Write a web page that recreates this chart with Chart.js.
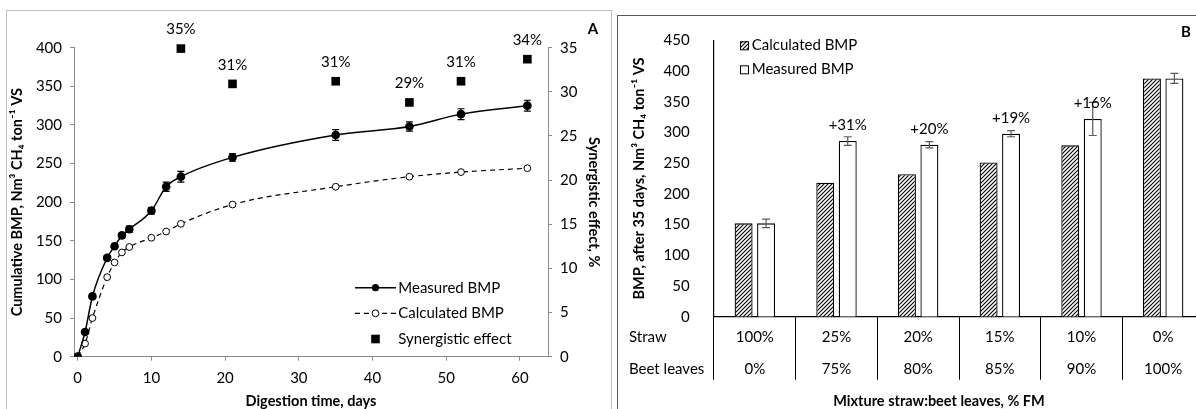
<!DOCTYPE html>
<html><head><meta charset="utf-8">
<script src="https://cdn.jsdelivr.net/npm/chart.js@4.4.1/dist/chart.umd.min.js"></script>
<style>
html,body{margin:0;padding:0;background:#fff;width:1196px;height:409px;overflow:hidden;position:relative;}
.frame{position:absolute;box-sizing:border-box;}
#frameA{left:6px;top:10px;width:606px;height:420px;border:1px solid #bfbfbf;}
#frameB{left:617px;top:15px;width:700px;height:420px;border:1px solid #595959;}
canvas{position:absolute;}
#cA{left:7px;top:11px;}
#cB{left:617px;top:15px;}
</style></head><body>
<div class="frame" id="frameA"></div><div class="frame" id="frameB"></div>
<canvas id="cA" width="604" height="398"></canvas>
<canvas id="cB" width="600" height="400"></canvas>
<script>
// ---------- Panel A data ----------
const daysA = [0, 1, 2, 4, 5, 6, 7, 10, 12, 14, 21, 35, 45, 52, 61];
const measuredA = [0, 32, 78, 128, 143, 157, 165, 189, 220, 233, 258, 287, 298, 314, 325];
const measuredErrA = [0, 2, 3, 3, 3, 3, 4, 4, 6, 7, 5, 7, 6, 7, 7];
const calculatedA = [0, 17, 50, 103, 122, 135, 142, 154, 162, 172, 197, 220, 233, 239, 244];
const synDaysA = [14, 21, 35, 45, 52, 61];
const synValuesA = [34.9, 30.9, 31.2, 28.8, 31.2, 33.7];
const synLabelsA = ['35%', '31%', '31%', '29%', '31%', '34%'];
const xTicksA = [0, 10, 20, 30, 40, 50, 60];
const legendA = ['Measured BMP', 'Calculated BMP', 'Synergistic effect'];

// ---------- Panel B data ----------
const strawPctB = ['100%', '25%', '20%', '15%', '10%', '0%'];
const beetPctB = ['0%', '75%', '80%', '85%', '90%', '100%'];
const calculatedB = [152, 218, 232, 251, 279, 388];
const measuredB = [152, 286, 280, 298, 322, 388];
const measuredErrB = [7, 7, 5, 5, 27, 8];
const synLabelsB = ['', '+31%', '+20%', '+19%', '+16%', ''];
const legendB = ['Calculated BMP', 'Measured BMP'];

const FONT = 'Lato, "Open Sans", sans-serif';
const FS = 15;      // normal text size
const FT = 14.5;    // bold title size
Chart.defaults.font.family = FONT;
Chart.defaults.color = '#000';
const GREY = '#8c8c8c';

// ---------- Panel A ----------
const pluginA = {
  id: 'extrasA',
  afterDatasetsDraw(chart) {
    const ctx = chart.ctx;
    const ys = chart.scales.y;
    const m0 = chart.getDatasetMeta(0);
    ctx.save();
    ctx.strokeStyle = '#000'; ctx.lineWidth = 1.2;
    m0.data.forEach((el, i) => {
      const e = measuredErrA[i];
      if (!e) return;
      const y1 = ys.getPixelForValue(measuredA[i] + e);
      const y2 = ys.getPixelForValue(measuredA[i] - e);
      ctx.beginPath();
      ctx.moveTo(el.x, y1); ctx.lineTo(el.x, y2);
      ctx.moveTo(el.x - 3.5, y1); ctx.lineTo(el.x + 3.5, y1);
      ctx.moveTo(el.x - 3.5, y2); ctx.lineTo(el.x + 3.5, y2);
      ctx.stroke();
    });
    const m2 = chart.getDatasetMeta(2);
    ctx.fillStyle = '#000';
    ctx.font = FS + 'px ' + FONT;
    ctx.textAlign = 'center'; ctx.textBaseline = 'middle';
    m2.data.forEach((el, i) => ctx.fillText(synLabelsA[i], el.x, el.y - 19));
    // legend
    const ca = chart.chartArea;
    const lx0 = ca.right - 193, lx1 = ca.right - 152, tx = ca.right - 149.7;
    const rows = [ca.bottom - 69, ca.bottom - 43.4, ca.bottom - 17.7];
    ctx.textAlign = 'left';
    ctx.lineWidth = 1.5; ctx.strokeStyle = '#000';
    ctx.setLineDash([]);
    ctx.beginPath(); ctx.moveTo(lx0, rows[0]); ctx.lineTo(lx1, rows[0]); ctx.stroke();
    ctx.beginPath(); ctx.arc((lx0 + lx1) / 2, rows[0], 3.6, 0, Math.PI * 2); ctx.fill();
    ctx.lineWidth = 1.2; ctx.setLineDash([5, 4]);
    ctx.beginPath(); ctx.moveTo(lx0, rows[1]); ctx.lineTo(lx1, rows[1]); ctx.stroke();
    ctx.setLineDash([]);
    ctx.fillStyle = '#fff';
    ctx.beginPath(); ctx.arc((lx0 + lx1) / 2, rows[1], 3.4, 0, Math.PI * 2); ctx.fill(); ctx.lineWidth = 1; ctx.stroke();
    ctx.fillStyle = '#000';
    ctx.fillRect((lx0 + lx1) / 2 - 4.3, rows[2] - 4.3, 8.6, 8.6);
    legendA.forEach((t, i) => ctx.fillText(t, tx, rows[i]));
    ctx.font = 'bold 15px ' + FONT;
    ctx.textAlign = 'center';
    ctx.fillText('A', 586, 18);
    ctx.restore();
  }
};

const axisGridA = { drawOnChartArea: false, drawTicks: true, tickLength: 4, color: GREY };
new Chart(document.getElementById('cA'), {
  type: 'line',
  data: {
    datasets: [
      {
        label: legendA[0],
        data: daysA.map((d, i) => ({ x: d, y: measuredA[i] })),
        yAxisID: 'y', order: 0,
        borderColor: '#000', backgroundColor: '#000', borderWidth: 1.5,
        pointRadius: 3.6, pointBackgroundColor: '#000', pointBorderColor: '#000',
        tension: 0.3, cubicInterpolationMode: 'monotone'
      },
      {
        label: legendA[1],
        data: daysA.map((d, i) => ({ x: d, y: calculatedA[i] })),
        yAxisID: 'y', order: 1,
        borderColor: '#000', borderWidth: 1.2, borderDash: [5, 4],
        pointRadius: 3.4, pointBackgroundColor: '#fff', pointBorderColor: '#000', pointBorderWidth: 1,
        tension: 0.3, cubicInterpolationMode: 'monotone'
      },
      {
        label: legendA[2],
        data: synDaysA.map((d, i) => ({ x: d, y: synValuesA[i] })),
        yAxisID: 'y2', order: 2, showLine: false, clip: false,
        pointStyle: 'rect', pointRadius: 6.1, pointBackgroundColor: '#000', pointBorderColor: '#000', pointBorderWidth: 0
      }
    ]
  },
  options: {
    responsive: false, animation: false,
    layout: { padding: { top: 36.7, left: 0, right: 0, bottom: 0 } },
    plugins: { legend: { display: false }, tooltip: { enabled: false } },
    scales: {
      x: {
        type: 'linear', min: -0.5, max: 63.8,
        afterBuildTicks: s => { s.ticks = xTicksA.map(v => ({ value: v })); },
        grid: axisGridA, border: { color: GREY, width: 1 },
        ticks: { padding: 8, font: { size: FS }, color: '#000', maxRotation: 0 },
        title: { display: true, text: 'Digestion time, days', font: { size: FT, weight: 'bold' }, color: '#000', padding: { top: 0, bottom: -1 } },
        afterFit: s => { s.height = 52.3; }
      },
      y: {
        position: 'left', min: 0, max: 400,
        grid: axisGridA, border: { color: GREY, width: 1 },
        ticks: { stepSize: 50, padding: 8, font: { size: FS }, color: '#000' },
        title: { display: true, text: 'Cumulative BMP, Nm³ CH₄ ton⁻¹ VS', font: { size: FT, weight: 'bold' }, color: '#000', padding: { top: 2, bottom: 0 } },
        afterFit: s => { s.width = 67; }
      },
      y2: {
        position: 'right', min: 0, max: 35,
        grid: axisGridA, border: { color: GREY, width: 1 },
        ticks: { stepSize: 5, padding: 8, font: { size: FS }, color: '#000' },
        title: { display: true, text: 'Synergistic effect, %', font: { size: FT, weight: 'bold' }, color: '#000', padding: { top: 9, bottom: 0 } },
        afterFit: s => { s.width = 63; }
      }
    }
  },
  plugins: [pluginA]
});

// ---------- Panel B ----------
function makeHatch() {
  const c = document.createElement('canvas');
  c.width = 4; c.height = 4;
  const g = c.getContext('2d');
  g.fillStyle = '#fff'; g.fillRect(0, 0, 4, 4);
  g.strokeStyle = '#000'; g.lineWidth = 1.1;
  g.beginPath();
  g.moveTo(0, 4); g.lineTo(4, 0);
  g.moveTo(-1, 1); g.lineTo(1, -1);
  g.moveTo(3, 5); g.lineTo(5, 3);
  g.stroke();
  return g.createPattern(c, 'repeat');
}
const hatch = makeHatch();

const pluginB = {
  id: 'extrasB',
  afterDatasetsDraw(chart) {
    const ctx = chart.ctx;
    const ys = chart.scales.y;
    const m1 = chart.getDatasetMeta(1);
    ctx.save();
    ctx.strokeStyle = '#595959'; ctx.lineWidth = 1.2;
    m1.data.forEach((el, i) => {
      const e = measuredErrB[i];
      const y1 = ys.getPixelForValue(measuredB[i] + e);
      const y2 = ys.getPixelForValue(measuredB[i] - e);
      ctx.beginPath();
      ctx.moveTo(el.x, y1); ctx.lineTo(el.x, y2);
      ctx.moveTo(el.x - 4, y1); ctx.lineTo(el.x + 4, y1);
      ctx.moveTo(el.x - 4, y2); ctx.lineTo(el.x + 4, y2);
      ctx.stroke();
    });
    ctx.fillStyle = '#000';
    ctx.font = FS + 'px ' + FONT;
    ctx.textAlign = 'center'; ctx.textBaseline = 'middle';
    m1.data.forEach((el, i) => { if (synLabelsB[i]) ctx.fillText(synLabelsB[i], el.x, el.y - 16); });
    ctx.textAlign = 'left';
    const bottom = chart.chartArea.bottom;
    ctx.fillText('Straw', 12, bottom + 20);
    ctx.fillText('Beet leaves', 12, bottom + 52.6);
    // legend
    const bx = chart.chartArea.left + 26;
    const rows = [chart.chartArea.top + 5, chart.chartArea.top + 29];
    ctx.lineWidth = 1; ctx.strokeStyle = '#000';
    [hatch, '#fff'].forEach((f, i) => {
      ctx.fillStyle = f;
      ctx.fillRect(bx, rows[i] - 4, 8, 8);
      ctx.strokeRect(bx + 0.5, rows[i] - 3.5, 8, 8);
    });
    ctx.fillStyle = '#000';
    legendB.forEach((t, i) => ctx.fillText(t, bx + 11.7, rows[i]));
    ctx.font = 'bold ' + FT + 'px ' + FONT;
    ctx.textAlign = 'center';
    ctx.fillText('Mixture straw:beet leaves, % FM', chart.chartArea.left + 225, bottom + 85);
    ctx.font = 'bold 15px ' + FONT;
    ctx.fillText('B', 569, 17);
    ctx.restore();
  }
};

new Chart(document.getElementById('cB'), {
  type: 'bar',
  data: {
    labels: strawPctB.map((s, i) => [s, beetPctB[i]]),
    datasets: [
      { label: legendB[0], data: calculatedB, backgroundColor: hatch, borderColor: '#000', borderWidth: 1.3, borderSkipped: 'bottom' },
      { label: legendB[1], data: measuredB, backgroundColor: '#fff', borderColor: '#000', borderWidth: 1.3, borderSkipped: 'bottom' }
    ]
  },
  options: {
    responsive: false, animation: false,
    categoryPercentage: 0.55, barPercentage: 0.8,
    layout: { padding: { top: 19.3, left: 0, right: 13, bottom: 0 } },
    plugins: { legend: { display: false }, tooltip: { enabled: false } },
    scales: {
      x: {
        grid: { offset: true, drawOnChartArea: false, drawTicks: true, tickLength: 63, color: '#000', lineWidth: 1 },
        border: { color: '#000', width: 1.2 },
        ticks: { padding: -59.3, font: { size: FS, lineHeight: 32.6 / FS }, color: '#000', maxRotation: 0, autoSkip: false },
        afterFit: s => { s.height = 98.3; }
      },
      y: {
        min: 0, max: 450,
        grid: { display: false },
        border: { color: '#000', width: 1.2 },
        ticks: { stepSize: 50, padding: 16.3, font: { size: FS }, color: '#000' },
        title: { display: true, text: 'BMP, after 35 days, Nm³ CH₄ ton⁻¹ VS', font: { size: FT, weight: 'bold' }, color: '#000', padding: { top: 14, bottom: 0 } },
        afterFit: s => { s.width = 97; }
      }
    }
  },
  plugins: [pluginB]
});
</script></body></html>
